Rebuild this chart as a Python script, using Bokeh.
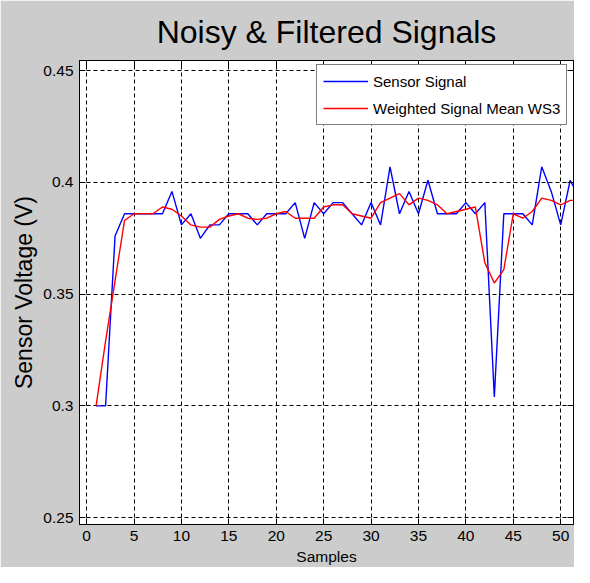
from bokeh.plotting import figure
from bokeh.models import (LinearAxis, FixedTicker, Legend, LegendItem, Range1d,
                          CustomLabelingPolicy)
from bokeh.embed import file_html
from bokeh.resources import INLINE

# ---- data ----
samples = list(range(1, 53))
sensor_signal = [
    0.300, 0.300, 0.376, 0.386, 0.386, 0.386, 0.386, 0.386, 0.396, 0.381,
    0.386, 0.375, 0.381, 0.381, 0.386, 0.386, 0.386, 0.381, 0.386, 0.386,
    0.386, 0.391, 0.375, 0.391, 0.386, 0.391, 0.391, 0.386, 0.381, 0.391,
    0.381, 0.407, 0.386, 0.396, 0.386, 0.401, 0.386, 0.386, 0.386, 0.391,
    0.386, 0.391, 0.304, 0.386, 0.386, 0.386, 0.381, 0.407, 0.396, 0.381,
    0.401, 0.393,
]
weighted_mean_ws3 = [
    0.300, 0.329, 0.356, 0.383, 0.386, 0.386, 0.386, 0.389, 0.388, 0.385,
    0.381, 0.380, 0.380, 0.3835, 0.385, 0.386, 0.384, 0.3835, 0.384, 0.386,
    0.387, 0.384, 0.384, 0.384, 0.389, 0.390, 0.390, 0.386, 0.385, 0.384,
    0.391, 0.393, 0.395, 0.390, 0.393, 0.392, 0.390, 0.386, 0.387, 0.388,
    0.389, 0.364, 0.355, 0.361, 0.386, 0.384, 0.387, 0.393, 0.392, 0.390,
    0.392, 0.392,
]
x_ticks = [0, 5, 10, 15, 20, 25, 30, 35, 40, 45, 50]
y_ticks = [0.25, 0.3, 0.35, 0.4, 0.45]
y_tick_labels = ["0.25", "0.3", "0.35", "0.4", "0.45"]
series_names = ["Sensor Signal", "Weighted Signal Mean WS3"]
x_lim = (-0.75, 51.35)
y_lim = (0.2469, 0.4546)

SANS = "Liberation Sans"

p = figure(
    width=574, height=567,
    output_backend="svg", toolbar_location=None,
    x_range=Range1d(*x_lim), y_range=Range1d(*y_lim),
    min_border_left=79, min_border_right=1, min_border_top=59, min_border_bottom=0,
    background_fill_color="white", border_fill_color="#cccccc",
    outline_line_color="black", outline_line_width=1,
)

# title
p.title.text = "Noisy & Filtered Signals"
p.title.align = "center"
p.title.text_font = SANS
p.title.text_font_size = "32px"
p.title.text_font_style = "normal"
p.title.text_color = "black"
p.title.standoff = 22

# axes
for ax in (p.xaxis[0], p.yaxis[0]):
    ax.major_tick_in = 6
    ax.major_tick_out = 0
    ax.minor_tick_in = 0
    ax.minor_tick_out = 0
    ax.axis_line_color = "black"
    ax.major_tick_line_color = "black"
    ax.major_label_text_font = SANS
    ax.major_label_text_font_size = "15.5px"
    ax.major_label_text_color = "black"
    ax.major_label_standoff = 6
    ax.axis_label_text_font_style = "normal"
    ax.axis_label_text_color = "black"

p.xaxis[0].ticker = FixedTicker(ticks=x_ticks)
p.yaxis[0].ticker = FixedTicker(ticks=y_ticks)
p.yaxis[0].major_label_overrides = {t: s for t, s in zip(y_ticks, y_tick_labels)}

p.xaxis[0].axis_label = "Samples"
p.xaxis[0].axis_label_text_font = SANS
p.xaxis[0].axis_label_text_font_size = "15.5px"
p.xaxis[0].axis_label_standoff = 4

p.yaxis[0].axis_label = "Sensor Voltage (V)"
p.yaxis[0].axis_label_text_font = SANS
p.yaxis[0].axis_label_text_font_size = "23px"
p.yaxis[0].axis_label_standoff = 3

# mirrored axes (ticks only, no labels) on top and right
hide_all = CustomLabelingPolicy(code="""
const idx = Array.from(indices);
for (const i of idx) indices.unset(i);
return indices;
""")
top_ax = LinearAxis(ticker=FixedTicker(ticks=x_ticks))
right_ax = LinearAxis(ticker=FixedTicker(ticks=y_ticks))
for ax in (top_ax, right_ax):
    ax.major_tick_in = 6
    ax.major_tick_out = 0
    ax.minor_tick_in = 0
    ax.minor_tick_out = 0
    ax.major_label_text_font_size = "0px"
    ax.major_label_standoff = 0
    ax.major_label_policy = hide_all
    ax.axis_line_color = "black"
p.add_layout(top_ax, "above")
p.add_layout(right_ax, "right")

# grid
for g in (p.xgrid[0], p.ygrid[0]):
    g.grid_line_color = "black"
    g.grid_line_dash = "4 3"
    g.grid_line_width = 1
    g.grid_line_alpha = 1.0
p.xgrid[0].ticker = FixedTicker(ticks=x_ticks)
p.ygrid[0].ticker = FixedTicker(ticks=y_ticks)

# lines
r1 = p.line(samples, sensor_signal, line_color="#0000ff", line_width=1.4)
r2 = p.line(samples, weighted_mean_ws3, line_color="#ff0000", line_width=1.4)

legend = Legend(
    items=[LegendItem(label=series_names[0], renderers=[r1]),
           LegendItem(label=series_names[1], renderers=[r2])],
    location=(237, 399),
    orientation="vertical",
    background_fill_color="white", background_fill_alpha=1.0,
    border_line_color="black", border_line_width=1,
    label_text_font=SANS, label_text_font_size="15px", label_text_color="black",
    glyph_width=45, glyph_height=20, label_height=20, label_standoff=5,
    spacing=7, padding=6, margin=0,
)
p.add_layout(legend, "center")

open("out.html", "w").write(file_html(p, INLINE))
